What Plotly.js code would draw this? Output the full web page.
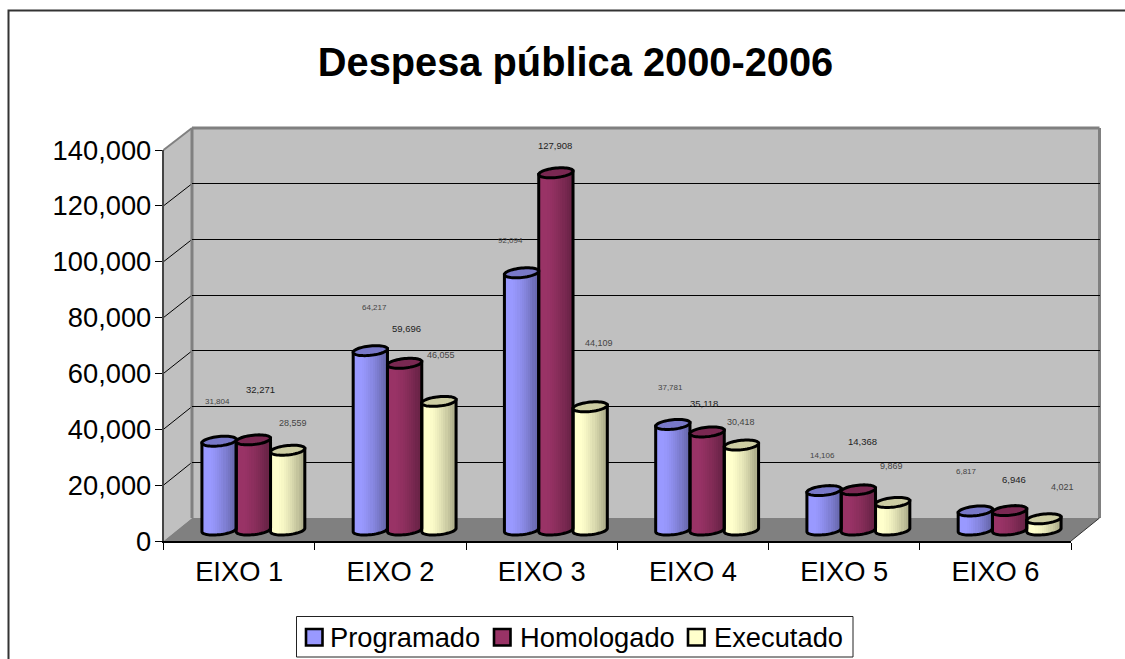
<!DOCTYPE html>
<html><head><meta charset="utf-8">
<script src="https://cdn.plot.ly/plotly-3.0.1.min.js"></script>
<style>html,body{margin:0;padding:0;background:#fff}#c{width:1125px;height:659px}</style>
</head><body><div id="c"></div>
<script>
const categories = ["EIXO 1","EIXO 2","EIXO 3","EIXO 4","EIXO 5","EIXO 6"];
const programado = [31804,64217,92094,37781,14106,6817];
const homologado = [32271,59696,127908,35118,14368,6946];
const executado  = [28559,46055,44109,30418,9869,4021];
const seriesNames = ["Programado","Homologado","Executado"];
const yTicks = [0,20000,40000,60000,80000,100000,120000,140000];
const titleText = "Despesa pública 2000-2006";

const W=1125,H=659, FONT='"Liberation Sans", Arial, sans-serif', TXT=27.3;
const seriesValues=[programado,homologado,executado];
const baseRGB=[[153,153,255],[153,51,102],[255,255,204]];
const topColor=['#7878c8','#7a2852','#cdcda3'];
const fx=p=>p/W, fy=p=>1-p/H;
// geometry of the pseudo-3D box, px
const F={l:163.5,r:1071,t:150,b:541}, B={l:192,r:1099.5,t:128,b:518};
const dep={x:14.25,y:11};
const pv=140000/(F.b-F.t), catPx=(F.r-F.l)/6;
const barW=34.3/catPx, a=0.5*barW, bPx=4.7, tiltPx=1.7, NS=16, padPx=24;

const lab={ // label offset from bar centre/top, px: [dx,dy] per category
  0:{size:8,color:'#444',off:[[-2,40],[4,43],[-11,32],[-2,36.5],[-2,35],[-9,39]]},
  1:{size:9.5,color:'#222',off:[[7,50],[2,35],[-1,27],[-3,28],[4,48],[4,31]]},
  2:{size:9,color:'#444',off:[[5,27],[2,46],[9,64],[0,23],[-1,36],[19,32]]}
};

const traces=[];
traces.push({x:categories,y:categories.map(()=>null),xaxis:'x',yaxis:'y',type:'scatter',mode:'none',showlegend:false,hoverinfo:'skip'});
traces.push({x:[0],y:[null],xaxis:'x2',yaxis:'y2',type:'scatter',mode:'none',showlegend:false,hoverinfo:'skip'});

const shade=(rgb,t)=>{const f=1-0.36*Math.pow(Math.max(t-0.2,0)/0.8,1.4);
  return 'rgb('+rgb.map(c=>Math.round(c*f)).join(',')+')';};
const lowEdge=u=>(-bPx*Math.sqrt(Math.max(0,1-u*u))+tiltPx*u)*pv;
const centreEdge=u=>tiltPx*u*pv;

seriesValues.forEach((vals,s)=>{
  const off=(s-1)*barW;
  for(let k=0;k<NS;k++){
    const u=-1+(2*k+1)/NS, t=(k+0.5)/NS;
    traces.push({type:'bar',xaxis:'x3',yaxis:'y3',name:seriesNames[s],showlegend:false,cliponaxis:false,
      hovertemplate:seriesNames[s]+': %{customdata:,d}<extra></extra>',customdata:vals,
      x:vals.map((_,i)=>i+off+u*a),
      width:barW/NS*1.12,
      base:vals.map(()=>lowEdge(u)),
      y:vals.map(v=>v+centreEdge(u)-lowEdge(u)),
      marker:{color:shade(baseRGB[s],t),line:{width:0}}});
  }
});

const shapes=[];
const poly=(pts,o)=>shapes.push(Object.assign({type:'path',xref:'paper',yref:'paper',layer:'below',
  path:'M'+pts.map(p=>fx(p[0])+','+fy(p[1])).join('L')+'Z',line:{width:0}},o));
const seg=(p,q,col,w,layer)=>shapes.push({type:'line',xref:'paper',yref:'paper',layer:layer||'below',
  x0:fx(p[0]),y0:fy(p[1]),x1:fx(q[0]),y1:fy(q[1]),line:{color:col,width:w}});
poly([[F.l,F.t],[B.l,B.t],[B.l,B.b],[F.l,F.b]],{fillcolor:'#c0c0c0'});
poly([[B.l,B.t],[B.r,B.t],[B.r,B.b],[B.l,B.b]],{fillcolor:'#c0c0c0'});
poly([[F.l,F.b],[B.l,B.b],[B.r,B.b],[F.r,F.b]],{fillcolor:'#808080'});
yTicks.slice(1,-1).forEach(v=>{const k=v/140000;
  seg([F.l,F.b-k*(F.b-F.t)],[B.l,B.b-k*(B.b-B.t)],'#000',1);});
seg([B.l,B.t],[B.r,B.t],'#808080',3);
seg([B.l,B.t],[B.l,B.b],'#808080',3);
seg([B.r,B.t],[B.r,B.b],'#808080',3);
seg([F.l,F.t],[B.l,B.t],'#808080',2);
seg([F.r,F.b],[B.r,B.b],'#333',1);

// cylinder outlines and caps, in bar-axis data coordinates
seriesValues.forEach((vals,s)=>{
  vals.forEach((v,i)=>{
    const cx=i+(s-1)*barW;
    let sil='',cap='';
    const N=28;
    for(let j=0;j<=N;j++){const th=Math.PI*j/N;const u=-Math.cos(th);
      sil+=(j?'L':'M')+(cx+u*a)+','+lowEdge(u);}
    sil+='L'+(cx+a)+','+(v+centreEdge(1))+'L'+(cx-a)+','+(v+centreEdge(-1))+'Z';
    shapes.push({type:'path',xref:'x3',yref:'y3',layer:'above',path:sil,line:{color:'#000',width:3}});
    for(let j=0;j<2*N;j++){const th=Math.PI*j/N;const u=Math.cos(th);
      const dy=(bPx*Math.sin(th)+tiltPx*u)*pv;
      cap+=(j?'L':'M')+(cx+u*a)+','+(v+dy);}
    shapes.push({type:'path',xref:'x3',yref:'y3',layer:'above',path:cap+'Z',fillcolor:topColor[s],line:{color:'#000',width:3}});
  });
});

// frame
shapes.push({type:'path',xref:'paper',yref:'paper',layer:'above',
  path:'M'+fx(8.5)+','+fy(659)+'L'+fx(8.5)+','+fy(10.5)+'L'+fx(1125)+','+fy(10.5),line:{color:'#333',width:2}});
// legend
shapes.push({type:'rect',xref:'paper',yref:'paper',layer:'above',x0:fx(296.5),x1:fx(853),y0:fy(616.5),y1:fy(657),
  line:{color:'#222',width:1},fillcolor:'#fff'});
const swX=[306,494,688], txtX=[328,518,712];
const annotations=[];
seriesNames.forEach((n,s)=>{
  shapes.push({type:'rect',xref:'paper',yref:'paper',layer:'above',x0:fx(swX[s]),x1:fx(swX[s]+16.5),y0:fy(629),y1:fy(645.5),
    fillcolor:'rgb('+baseRGB[s].join(',')+')',line:{color:'#000',width:2.6}});
  annotations.push({xref:'paper',yref:'paper',x:fx(txtX[s]),y:fy(637),xanchor:'left',yanchor:'middle',showarrow:false,
    text:n,font:{family:FONT,size:TXT,color:'#000'}});
  seriesValues[s].forEach((v,i)=>{
    annotations.push({xref:'x3',yref:'y3',x:i+(s-1)*barW,y:v,xanchor:'center',yanchor:'middle',showarrow:false,
      xshift:lab[s].off[i][0],yshift:lab[s].off[i][1],
      text:v.toLocaleString('en-US'),font:{family:FONT,size:lab[s].size,color:lab[s].color}});
  });
});

const layout={
  width:W,height:H,margin:{l:0,r:0,t:0,b:0},paper_bgcolor:'#fff',plot_bgcolor:'rgba(0,0,0,0)',
  barmode:'overlay',bargap:0,showlegend:false,font:{family:FONT,color:'#000'},
  title:{text:titleText,x:fx(575.5),xref:'paper',xanchor:'center',y:fy(62),yref:'paper',yanchor:'middle',
    font:{family:FONT,size:39.8,color:'#000',weight:700}},
  xaxis:{domain:[fx(F.l),fx(F.r)],anchor:'y',type:'category',categoryarray:categories,categoryorder:'array',range:[-0.5,5.5],
    tickson:'boundaries',ticks:'outside',ticklen:7,tickwidth:1,tickcolor:'#000',showline:true,linecolor:'#000',linewidth:2,
    ticklabelstandoff:5,showgrid:false,zeroline:false,tickfont:{family:FONT,size:TXT,color:'#000'},fixedrange:true},
  yaxis:{domain:[fy(F.b),fy(F.t)],anchor:'x',range:[0,140000],tickvals:yTicks,tickformat:',d',ticks:'outside',ticklen:7,tickwidth:1,
    ticklabelstandoff:-2,tickcolor:'#000',showline:true,linecolor:'#444',linewidth:1.5,showgrid:false,zeroline:false,
    tickfont:{family:FONT,size:TXT,color:'#000'},fixedrange:true},
  xaxis2:{domain:[fx(B.l),fx(B.r)],anchor:'y2',range:[0,1],visible:true,showticklabels:false,ticks:'',showgrid:false,zeroline:false,showline:false,fixedrange:true},
  yaxis2:{domain:[fy(B.b),fy(B.t)],anchor:'x2',range:[0,140000],tickvals:yTicks.slice(1,-1),showticklabels:false,ticks:'',showgrid:true,gridcolor:'#000',gridwidth:1,zeroline:false,showline:false,fixedrange:true},
  xaxis3:{domain:[fx(F.l+dep.x),fx(F.r+dep.x)],anchor:'y3',range:[-0.5,5.5],visible:false,fixedrange:true},
  yaxis3:{domain:[fy(F.b-dep.y+padPx),fy(F.t-dep.y)],anchor:'x3',range:[-padPx*pv,140000],visible:false,fixedrange:true},
  shapes,annotations
};
Plotly.newPlot('c',traces,layout,{displayModeBar:false,responsive:false});
</script></body></html>
